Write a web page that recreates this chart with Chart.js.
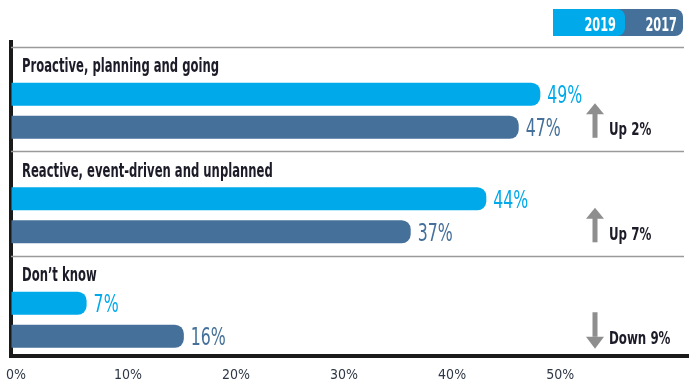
<!DOCTYPE html>
<html>
<head>
<meta charset="utf-8">
<script src="https://cdn.jsdelivr.net/npm/chart.js@4"></script>
<style>
body{margin:0;background:#fff;}
canvas{display:block;}
</style>
</head>
<body>
<canvas id="attitudeChart" width="689" height="391"></canvas>
<script>
// data
const categories = ["Proactive, planning and going", "Reactive, event-driven and unplanned", "Don\u2019t know"];
const years = ["2019", "2017"];
const values2019 = [49, 44, 7];
const values2017 = [47, 37, 16];
const tickValues = [0, 10, 20, 30, 40, 50];

const blue = "#00aaea";
const steel = "#44709a";
const ink = "#1c1c28";
const narrow = "'DejaVu Sans Condensed', 'Liberation Sans Narrow', sans-serif";

// squeezed text helper, the original font is a tall condensed face
function txt(ctx, s, x, y, font, color, sx, align){
ctx.save();
ctx.font = font;
ctx.fillStyle = color;
ctx.textBaseline = "alphabetic";
ctx.textAlign = align || "left";
ctx.translate(x, y);
ctx.scale(sx, 1);
ctx.fillText(s, 0, 0);
ctx.restore();
}

const decorations = {
id:"decorations",
beforeDatasetsDraw(chart){
const ctx = chart.ctx;
const y = chart.scales.y;
const area = chart.chartArea;
const band = (y.bottom - y.top) / categories.length;
// gray rules above each group
ctx.save();
ctx.strokeStyle = "#9a9a9a";
ctx.lineWidth = 1.5;
categories.forEach((cat, i) => {
const top = Math.round(y.getPixelForValue(i) - band / 2 + 4.5) + 0.5;
ctx.beginPath();
ctx.moveTo(area.left, top);
ctx.lineTo(area.right, top);
ctx.stroke();
});
// axis line runs on to the edge
const by = Math.round(area.bottom);
ctx.fillStyle = "#1a1a1a";
ctx.fillRect(area.right - 2, by - 2, chart.width - area.right + 2, 4);
ctx.restore();
},
afterDatasetsDraw(chart){
const ctx = chart.ctx;
const y = chart.scales.y;
const area = chart.chartArea;
const band = (y.bottom - y.top) / categories.length;

categories.forEach((cat, i) => {
const top = y.getPixelForValue(i) - band / 2;
txt(ctx, cat, 22, top + 30, "bold 19px " + narrow, ink, 0.68);

const b19 = chart.getDatasetMeta(1).data[i];
const b17 = chart.getDatasetMeta(2).data[i];
txt(ctx, values2019[i] + "%", b19.x + 7, b19.y + 9, "25px " + narrow, blue, 0.7);
txt(ctx, values2017[i] + "%", b17.x + 7, b17.y + 9, "25px " + narrow, steel, 0.7);

// change arrow
const diff = values2019[i] - values2017[i];
const ax = area.right - 89;
const y1 = b19.y + 9;
const y2 = b17.y + b17.height / 2 - 1;
ctx.save();
ctx.fillStyle = "#8e8e8e";
if (diff >= 0) {
ctx.fillRect(ax - 2.5, y1 + 10, 5, y2 - y1 - 10);
ctx.beginPath();
ctx.moveTo(ax, y1);
ctx.lineTo(ax + 9, y1 + 11);
ctx.lineTo(ax - 9, y1 + 11);
ctx.closePath();
ctx.fill();
} else {
ctx.fillRect(ax - 2.5, y1, 5, y2 - y1 - 10);
ctx.beginPath();
ctx.moveTo(ax, y2 + 2);
ctx.lineTo(ax + 9, y2 - 10);
ctx.lineTo(ax - 9, y2 - 10);
ctx.closePath();
ctx.fill();
}
ctx.restore();
const word = diff >= 0 ? "Up " : "Down ";
txt(ctx, word + Math.abs(diff) + "%", area.right - 75, b17.y + 8, "bold 18px " + narrow, ink, 0.73);
});

// legend pill, top right
const right = area.right - 1;
ctx.save();
ctx.fillStyle = chart.data.datasets[2].backgroundColor;
ctx.beginPath();
ctx.roundRect(right - 130, 9, 130, 27, [0, 8, 8, 0]);
ctx.fill();
ctx.fillStyle = chart.data.datasets[1].backgroundColor;
ctx.beginPath();
ctx.roundRect(right - 130, 9, 72, 27, [0, 8, 8, 0]);
ctx.fill();
ctx.restore();
txt(ctx, years[0], right - 67, 31, "bold 20px " + narrow, "#fff", 0.63, "right");
txt(ctx, years[1], right - 6, 31, "bold 20px " + narrow, "#fff", 0.63, "right");
}
};

new Chart(
document.getElementById("attitudeChart"),
{
type:"bar",

data:{
labels:categories,

datasets:[
{
// empty slot that holds the heading row
label:"",
data:categories.map(() => null)
},
{
label:years[0],
data:values2019,
backgroundColor:blue
},
{
label:years[1],
data:values2017,
backgroundColor:steel
}
]
},

options:{
indexAxis:"y",
responsive:false,
animation:false,
devicePixelRatio:1,
categoryPercentage:0.947,
barPercentage:0.7,
borderRadius:9,
borderSkipped:"start",
layout:{padding:{top:42, left:7, right:5, bottom:0}},
plugins:{
legend:{display:false},
tooltip:{enabled:false}
},
scales:{
x:{
min:0,
max:62.3,
afterBuildTicks:(s) => { s.ticks = tickValues.map(v => ({value:v})); },
afterFit:(s) => { s.height = 35.5; },
grid:{drawOnChartArea:false, drawTicks:false},
border:{display:true, color:"#1a1a1a", width:4},
ticks:{
align:"start",
labelOffset:-5,
padding:11,
color:"#2e3746",
font:{family:narrow, size:14},
callback:(v) => v + "%"
}
},
y:{
grid:{display:false, drawTicks:false},
border:{display:true, color:"#1a1a1a", width:4},
ticks:{display:false}
}
}
},

plugins:[decorations]
}
);
</script>
</body>
</html>
